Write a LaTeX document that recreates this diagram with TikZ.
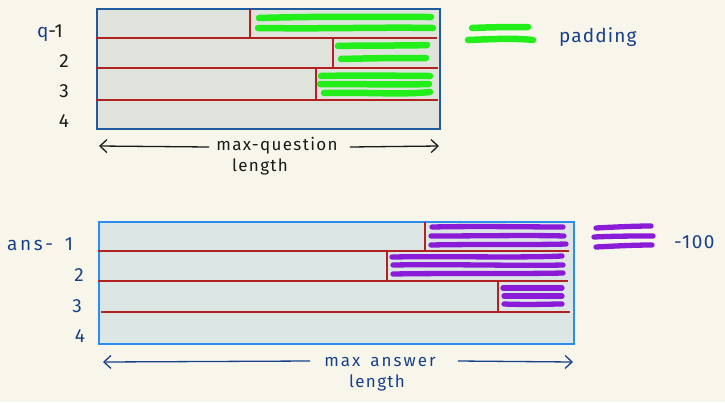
\documentclass[tikz,border=0pt]{standalone}
\usepackage{fontspec}
\setmainfont{Fira Sans}
\usetikzlibrary{arrows.meta}
\definecolor{bg}{HTML}{F8F6EB}
\definecolor{qfill}{HTML}{DFE3DC}
\definecolor{qborder}{HTML}{1F5B9E}
\definecolor{afill}{HTML}{DCE7E5}
\definecolor{aborder}{HTML}{2D8CF0}
\definecolor{redline}{HTML}{B22222}
\definecolor{padgreen}{HTML}{22EE1A}
\definecolor{padpurple}{HTML}{8A1BD6}
\definecolor{inkblue}{HTML}{17408A}
\definecolor{inkblack}{HTML}{1A1A1A}
\tikzset{
  boxq/.style={draw=qborder, fill=qfill, line width=1.8pt, inner sep=0pt, anchor=north west},
  boxa/.style={draw=aborder, fill=afill, line width=1.8pt, inner sep=0pt, anchor=north west},
  sep/.style={draw=redline, line width=1.4pt},
  gstroke/.style={draw=padgreen, line width=6.5pt, line cap=round},
  pstroke/.style={draw=padpurple, line width=5.3pt, line cap=round},
  arr/.style={-{Straight Barb[length=7pt,width=13pt]}, line width=1.3pt},
  lbl/.style={font=\fontsize{19}{19}\selectfont, inner sep=0pt},
  captext/.style={font=\fontsize{17}{17}\selectfont\addfontfeature{LetterSpace=8}, inner sep=0pt},
}
\begin{document}
\begin{tikzpicture}[x=1pt,y=-1pt]
\fill[bg] (0,0) rectangle (725,402);
\useasboundingbox (0,0) rectangle (725,402);

% ---------- question block ----------
\node[boxq, minimum width=343pt, minimum height=120pt] (qbox) at (96,8) {};
\draw[sep] (96,38) -- (437,38);
\draw[sep] (96,68) -- (438,68);
\draw[sep] (96,100) -- (438,100);
\draw[sep] (250,9) -- (250,38);
\draw[sep] (333,38) -- (333,68);
\draw[sep] (316,68) -- (316,100);
% padding strokes
\draw[gstroke] (259,18) .. controls (330,16) and (380,17) .. (431,17);
\draw[gstroke] (258,28) .. controls (330,29) and (380,27) .. (433,28);
\draw[gstroke] (338,46) .. controls (380,45) and (400,46) .. (427,45);
\draw[gstroke] (341,59) .. controls (380,58) and (400,58) .. (426,58);
\draw[gstroke] (321,76) .. controls (370,75) and (400,76) .. (430,76);
\draw[gstroke] (320,84) .. controls (370,84) and (400,85) .. (429,84);
\draw[gstroke] (324,93) .. controls (370,92) and (400,95) .. (430,92);

% labels
\node[lbl, anchor=base] (q1) at (50,37) {\textcolor{inkblue}{q}\textcolor{inkblack}{-1}};
\node[lbl, anchor=base, text=inkblack] (q2) at (64,67) {2};
\node[lbl, anchor=base, text=inkblack] (q3) at (64,97) {3};
\node[lbl, anchor=base, text=inkblack] (q4) at (64,127) {4};

% length arrow
\node[captext, text=inkblack] (qcap) at (277,146) {max-question};
\node[captext, text=inkblack] (qlen) at (260,167) {length};
\coordinate (qL) at (99,146);
\coordinate (qR) at (439,146);
\draw[arr, inkblack] ([xshift=-7pt,yshift=-1pt]qcap.west) -- (qL);
\draw[arr, inkblack] ([xshift=12pt,yshift=-1pt]qcap.east) -- (qR);

% legend padding
\draw[gstroke] (472,28) .. controls (495,27) and (515,27) .. (528,27);
\draw[gstroke] (468,40) .. controls (495,39) and (515,38) .. (533,40);
\node[lbl, anchor=west, text=inkblue, font=\fontsize{19}{19}\selectfont\addfontfeature{LetterSpace=6}] (pad) at (559,37) {padding};

% ---------- answer block ----------
\node[boxa, minimum width=475pt, minimum height=122pt] (abox) at (98,221) {};
\draw[sep] (98,251) -- (569,251);
\draw[sep] (98,281) -- (568,281);
\draw[sep] (101,312) -- (570,312);
\draw[sep] (425,222) -- (425,251);
\draw[sep] (387,251) -- (387,281);
\draw[sep] (498,281) -- (498,312);
% -100 strokes
\draw[pstroke] (432,227) .. controls (480,226) and (530,227) .. (563,227);
\draw[pstroke] (431,236) .. controls (480,236) and (530,235) .. (564,236);
\draw[pstroke] (431,245) .. controls (480,244) and (530,245) .. (566,244);
\draw[pstroke] (392,257) .. controls (450,256) and (520,258) .. (562,256);
\draw[pstroke] (393,265) .. controls (450,264) and (520,266) .. (563,265);
\draw[pstroke] (393,274) .. controls (450,273) and (520,274) .. (563,273);
\draw[pstroke] (503,288) -- (562,288);
\draw[pstroke] (504,296) -- (562,296);
\draw[pstroke] (504,304) .. controls (530,305) and (550,304) .. (562,304);

% labels
\node[lbl, anchor=base west, text=inkblue, font=\fontsize{19}{19}\selectfont\addfontfeature{LetterSpace=14}] (a1) at (7,250) {ans-\hspace{12pt}1};
\node[lbl, anchor=base, text=inkblue] (a2) at (79,281) {2};
\node[lbl, anchor=base, text=inkblue] (a3) at (77,312) {3};
\node[lbl, anchor=base, text=inkblue] (a4) at (80,342) {4};

% length arrow
\node[captext, text=inkblue, font=\fontsize{17}{17}\selectfont\addfontfeature{LetterSpace=12}] (acap) at (380,362) {max\hspace{10pt}answer};
\node[captext, text=inkblue] (alen) at (377,383) {length};
\coordinate (aL) at (103,362);
\coordinate (aR) at (573,362);
\draw[arr, inkblue] ([xshift=-14pt,yshift=1pt]acap.west) -- (aL);
\draw[arr, inkblue] ([xshift=22pt,yshift=1pt]acap.east) -- (aR);

% legend -100
\draw[pstroke] (596,228) .. controls (615,227) and (635,226) .. (651,226);
\draw[pstroke] (594,237) .. controls (615,236) and (635,236) .. (653,236);
\draw[pstroke] (596,247) .. controls (615,246) and (635,245) .. (652,245);
\node[lbl, anchor=west, text=inkblue, font=\fontsize{19}{19}\selectfont\addfontfeature{LetterSpace=8}] (m100) at (674,242) {-100};
\end{tikzpicture}
\end{document}
